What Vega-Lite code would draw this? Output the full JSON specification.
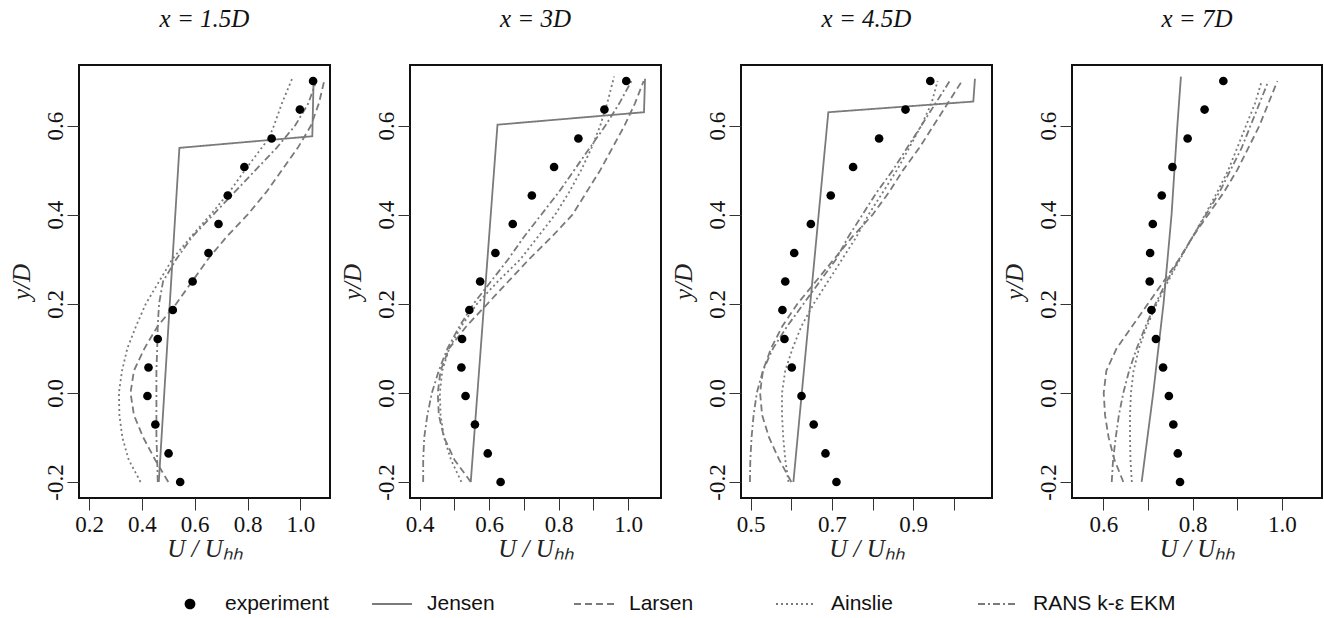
{
  "$schema": "https://vega.github.io/schema/vega-lite/v6.json",
  "padding": {"left": 8, "top": 6, "right": 2, "bottom": 2},
  "background": "white",
  "datasets": {
    "exp": [
      {"p":1,"y":-0.2,"u":0.545},{"p":1,"y":-0.136,"u":0.501},{"p":1,"y":-0.071,"u":0.451},{"p":1,"y":-0.007,"u":0.421},{"p":1,"y":0.057,"u":0.425},{"p":1,"y":0.121,"u":0.46},{"p":1,"y":0.186,"u":0.517},{"p":1,"y":0.25,"u":0.592},{"p":1,"y":0.314,"u":0.652},{"p":1,"y":0.379,"u":0.69},{"p":1,"y":0.443,"u":0.725},{"p":1,"y":0.507,"u":0.788},{"p":1,"y":0.571,"u":0.891},{"p":1,"y":0.636,"u":0.998},{"p":1,"y":0.7,"u":1.048},
      {"p":2,"y":-0.2,"u":0.633},{"p":2,"y":-0.136,"u":0.596},{"p":2,"y":-0.071,"u":0.559},{"p":2,"y":-0.007,"u":0.532},{"p":2,"y":0.057,"u":0.52},{"p":2,"y":0.121,"u":0.522},{"p":2,"y":0.186,"u":0.543},{"p":2,"y":0.25,"u":0.574},{"p":2,"y":0.314,"u":0.618},{"p":2,"y":0.379,"u":0.668},{"p":2,"y":0.443,"u":0.723},{"p":2,"y":0.507,"u":0.787},{"p":2,"y":0.571,"u":0.857},{"p":2,"y":0.636,"u":0.932},{"p":2,"y":0.7,"u":0.995},
      {"p":3,"y":-0.2,"u":0.711},{"p":3,"y":-0.136,"u":0.684},{"p":3,"y":-0.071,"u":0.655},{"p":3,"y":-0.007,"u":0.625},{"p":3,"y":0.057,"u":0.601},{"p":3,"y":0.121,"u":0.583},{"p":3,"y":0.186,"u":0.578},{"p":3,"y":0.25,"u":0.585},{"p":3,"y":0.314,"u":0.607},{"p":3,"y":0.379,"u":0.648},{"p":3,"y":0.443,"u":0.697},{"p":3,"y":0.507,"u":0.752},{"p":3,"y":0.571,"u":0.816},{"p":3,"y":0.636,"u":0.881},{"p":3,"y":0.7,"u":0.942},
      {"p":4,"y":-0.2,"u":0.772},{"p":4,"y":-0.136,"u":0.767},{"p":4,"y":-0.071,"u":0.757},{"p":4,"y":-0.007,"u":0.747},{"p":4,"y":0.057,"u":0.734},{"p":4,"y":0.121,"u":0.718},{"p":4,"y":0.186,"u":0.708},{"p":4,"y":0.25,"u":0.704},{"p":4,"y":0.314,"u":0.705},{"p":4,"y":0.379,"u":0.711},{"p":4,"y":0.443,"u":0.731},{"p":4,"y":0.507,"u":0.755},{"p":4,"y":0.571,"u":0.789},{"p":4,"y":0.636,"u":0.827},{"p":4,"y":0.7,"u":0.869}
    ],
    "mod": [
      {"p":1,"m":"Jensen","y":-0.2,"u":0.464},{"p":1,"m":"Jensen","y":0.55,"u":0.542},{"p":1,"m":"Jensen","y":0.576,"u":1.045},{"p":1,"m":"Jensen","y":0.705,"u":1.05},
      {"p":1,"m":"Larsen","y":-0.2,"u":0.5},{"p":1,"m":"Larsen","y":-0.15,"u":0.45},{"p":1,"m":"Larsen","y":-0.1,"u":0.405},{"p":1,"m":"Larsen","y":-0.05,"u":0.37},{"p":1,"m":"Larsen","y":0.0,"u":0.357},{"p":1,"m":"Larsen","y":0.05,"u":0.37},{"p":1,"m":"Larsen","y":0.1,"u":0.41},{"p":1,"m":"Larsen","y":0.15,"u":0.46},{"p":1,"m":"Larsen","y":0.2,"u":0.53},{"p":1,"m":"Larsen","y":0.25,"u":0.59},{"p":1,"m":"Larsen","y":0.3,"u":0.65},{"p":1,"m":"Larsen","y":0.35,"u":0.72},{"p":1,"m":"Larsen","y":0.4,"u":0.8},{"p":1,"m":"Larsen","y":0.45,"u":0.87},{"p":1,"m":"Larsen","y":0.5,"u":0.93},{"p":1,"m":"Larsen","y":0.55,"u":0.99},{"p":1,"m":"Larsen","y":0.6,"u":1.04},{"p":1,"m":"Larsen","y":0.65,"u":1.07},{"p":1,"m":"Larsen","y":0.7,"u":1.09},
      {"p":1,"m":"Ainslie","y":-0.2,"u":0.395},{"p":1,"m":"Ainslie","y":-0.15,"u":0.35},{"p":1,"m":"Ainslie","y":-0.1,"u":0.326},{"p":1,"m":"Ainslie","y":-0.05,"u":0.315},{"p":1,"m":"Ainslie","y":0.0,"u":0.313},{"p":1,"m":"Ainslie","y":0.05,"u":0.325},{"p":1,"m":"Ainslie","y":0.1,"u":0.345},{"p":1,"m":"Ainslie","y":0.15,"u":0.378},{"p":1,"m":"Ainslie","y":0.2,"u":0.415},{"p":1,"m":"Ainslie","y":0.25,"u":0.465},{"p":1,"m":"Ainslie","y":0.3,"u":0.515},{"p":1,"m":"Ainslie","y":0.35,"u":0.585},{"p":1,"m":"Ainslie","y":0.4,"u":0.66},{"p":1,"m":"Ainslie","y":0.45,"u":0.73},{"p":1,"m":"Ainslie","y":0.5,"u":0.79},{"p":1,"m":"Ainslie","y":0.571,"u":0.88},{"p":1,"m":"Ainslie","y":0.6,"u":0.9},{"p":1,"m":"Ainslie","y":0.65,"u":0.93},{"p":1,"m":"Ainslie","y":0.71,"u":0.972},
      {"p":1,"m":"RANS k-ε EKM","y":-0.2,"u":0.46},{"p":1,"m":"RANS k-ε EKM","y":-0.15,"u":0.458},{"p":1,"m":"RANS k-ε EKM","y":-0.1,"u":0.455},{"p":1,"m":"RANS k-ε EKM","y":-0.05,"u":0.455},{"p":1,"m":"RANS k-ε EKM","y":0.0,"u":0.455},{"p":1,"m":"RANS k-ε EKM","y":0.05,"u":0.455},{"p":1,"m":"RANS k-ε EKM","y":0.1,"u":0.458},{"p":1,"m":"RANS k-ε EKM","y":0.15,"u":0.46},{"p":1,"m":"RANS k-ε EKM","y":0.2,"u":0.465},{"p":1,"m":"RANS k-ε EKM","y":0.25,"u":0.48},{"p":1,"m":"RANS k-ε EKM","y":0.3,"u":0.53},{"p":1,"m":"RANS k-ε EKM","y":0.35,"u":0.59},{"p":1,"m":"RANS k-ε EKM","y":0.4,"u":0.67},{"p":1,"m":"RANS k-ε EKM","y":0.45,"u":0.75},{"p":1,"m":"RANS k-ε EKM","y":0.5,"u":0.83},{"p":1,"m":"RANS k-ε EKM","y":0.55,"u":0.91},{"p":1,"m":"RANS k-ε EKM","y":0.6,"u":0.98},{"p":1,"m":"RANS k-ε EKM","y":0.65,"u":1.03},{"p":1,"m":"RANS k-ε EKM","y":0.7,"u":1.06},

      {"p":2,"m":"Jensen","y":-0.2,"u":0.547},{"p":2,"m":"Jensen","y":0.602,"u":0.624},{"p":2,"m":"Jensen","y":0.63,"u":1.046},{"p":2,"m":"Jensen","y":0.705,"u":1.049},
      {"p":2,"m":"Larsen","y":-0.2,"u":0.547},{"p":2,"m":"Larsen","y":-0.15,"u":0.5},{"p":2,"m":"Larsen","y":-0.1,"u":0.47},{"p":2,"m":"Larsen","y":-0.05,"u":0.455},{"p":2,"m":"Larsen","y":0.0,"u":0.452},{"p":2,"m":"Larsen","y":0.05,"u":0.46},{"p":2,"m":"Larsen","y":0.1,"u":0.485},{"p":2,"m":"Larsen","y":0.15,"u":0.535},{"p":2,"m":"Larsen","y":0.2,"u":0.595},{"p":2,"m":"Larsen","y":0.25,"u":0.655},{"p":2,"m":"Larsen","y":0.3,"u":0.715},{"p":2,"m":"Larsen","y":0.35,"u":0.78},{"p":2,"m":"Larsen","y":0.4,"u":0.84},{"p":2,"m":"Larsen","y":0.45,"u":0.88},{"p":2,"m":"Larsen","y":0.5,"u":0.92},{"p":2,"m":"Larsen","y":0.55,"u":0.955},{"p":2,"m":"Larsen","y":0.6,"u":0.99},{"p":2,"m":"Larsen","y":0.65,"u":1.02},{"p":2,"m":"Larsen","y":0.7,"u":1.045},
      {"p":2,"m":"Ainslie","y":-0.2,"u":0.52},{"p":2,"m":"Ainslie","y":-0.15,"u":0.49},{"p":2,"m":"Ainslie","y":-0.1,"u":0.47},{"p":2,"m":"Ainslie","y":-0.05,"u":0.46},{"p":2,"m":"Ainslie","y":0.0,"u":0.458},{"p":2,"m":"Ainslie","y":0.05,"u":0.465},{"p":2,"m":"Ainslie","y":0.1,"u":0.485},{"p":2,"m":"Ainslie","y":0.15,"u":0.52},{"p":2,"m":"Ainslie","y":0.2,"u":0.565},{"p":2,"m":"Ainslie","y":0.25,"u":0.625},{"p":2,"m":"Ainslie","y":0.3,"u":0.69},{"p":2,"m":"Ainslie","y":0.35,"u":0.74},{"p":2,"m":"Ainslie","y":0.4,"u":0.79},{"p":2,"m":"Ainslie","y":0.45,"u":0.83},{"p":2,"m":"Ainslie","y":0.5,"u":0.865},{"p":2,"m":"Ainslie","y":0.55,"u":0.895},{"p":2,"m":"Ainslie","y":0.6,"u":0.92},{"p":2,"m":"Ainslie","y":0.65,"u":0.94},{"p":2,"m":"Ainslie","y":0.71,"u":0.96},
      {"p":2,"m":"RANS k-ε EKM","y":-0.2,"u":0.41},{"p":2,"m":"RANS k-ε EKM","y":-0.15,"u":0.41},{"p":2,"m":"RANS k-ε EKM","y":-0.1,"u":0.413},{"p":2,"m":"RANS k-ε EKM","y":-0.05,"u":0.422},{"p":2,"m":"RANS k-ε EKM","y":0.0,"u":0.435},{"p":2,"m":"RANS k-ε EKM","y":0.05,"u":0.455},{"p":2,"m":"RANS k-ε EKM","y":0.1,"u":0.48},{"p":2,"m":"RANS k-ε EKM","y":0.15,"u":0.515},{"p":2,"m":"RANS k-ε EKM","y":0.2,"u":0.555},{"p":2,"m":"RANS k-ε EKM","y":0.25,"u":0.605},{"p":2,"m":"RANS k-ε EKM","y":0.3,"u":0.655},{"p":2,"m":"RANS k-ε EKM","y":0.35,"u":0.7},{"p":2,"m":"RANS k-ε EKM","y":0.4,"u":0.75},{"p":2,"m":"RANS k-ε EKM","y":0.45,"u":0.8},{"p":2,"m":"RANS k-ε EKM","y":0.5,"u":0.845},{"p":2,"m":"RANS k-ε EKM","y":0.55,"u":0.89},{"p":2,"m":"RANS k-ε EKM","y":0.6,"u":0.935},{"p":2,"m":"RANS k-ε EKM","y":0.65,"u":0.975},{"p":2,"m":"RANS k-ε EKM","y":0.7,"u":1.01},

      {"p":3,"m":"Jensen","y":-0.2,"u":0.605},{"p":3,"m":"Jensen","y":0.63,"u":0.691},{"p":3,"m":"Jensen","y":0.654,"u":1.048},{"p":3,"m":"Jensen","y":0.705,"u":1.052},
      {"p":3,"m":"Larsen","y":-0.2,"u":0.6},{"p":3,"m":"Larsen","y":-0.15,"u":0.57},{"p":3,"m":"Larsen","y":-0.1,"u":0.545},{"p":3,"m":"Larsen","y":-0.05,"u":0.528},{"p":3,"m":"Larsen","y":0.0,"u":0.523},{"p":3,"m":"Larsen","y":0.05,"u":0.53},{"p":3,"m":"Larsen","y":0.1,"u":0.55},{"p":3,"m":"Larsen","y":0.15,"u":0.578},{"p":3,"m":"Larsen","y":0.2,"u":0.615},{"p":3,"m":"Larsen","y":0.25,"u":0.66},{"p":3,"m":"Larsen","y":0.3,"u":0.705},{"p":3,"m":"Larsen","y":0.35,"u":0.75},{"p":3,"m":"Larsen","y":0.4,"u":0.8},{"p":3,"m":"Larsen","y":0.45,"u":0.84},{"p":3,"m":"Larsen","y":0.5,"u":0.875},{"p":3,"m":"Larsen","y":0.55,"u":0.915},{"p":3,"m":"Larsen","y":0.6,"u":0.95},{"p":3,"m":"Larsen","y":0.65,"u":0.985},{"p":3,"m":"Larsen","y":0.7,"u":1.02},
      {"p":3,"m":"Ainslie","y":-0.2,"u":0.593},{"p":3,"m":"Ainslie","y":-0.15,"u":0.585},{"p":3,"m":"Ainslie","y":-0.1,"u":0.58},{"p":3,"m":"Ainslie","y":-0.05,"u":0.577},{"p":3,"m":"Ainslie","y":0.0,"u":0.577},{"p":3,"m":"Ainslie","y":0.05,"u":0.585},{"p":3,"m":"Ainslie","y":0.1,"u":0.603},{"p":3,"m":"Ainslie","y":0.15,"u":0.625},{"p":3,"m":"Ainslie","y":0.2,"u":0.655},{"p":3,"m":"Ainslie","y":0.25,"u":0.69},{"p":3,"m":"Ainslie","y":0.3,"u":0.725},{"p":3,"m":"Ainslie","y":0.35,"u":0.76},{"p":3,"m":"Ainslie","y":0.4,"u":0.79},{"p":3,"m":"Ainslie","y":0.45,"u":0.825},{"p":3,"m":"Ainslie","y":0.5,"u":0.86},{"p":3,"m":"Ainslie","y":0.55,"u":0.89},{"p":3,"m":"Ainslie","y":0.6,"u":0.92},{"p":3,"m":"Ainslie","y":0.65,"u":0.945},{"p":3,"m":"Ainslie","y":0.7,"u":0.96},
      {"p":3,"m":"RANS k-ε EKM","y":-0.2,"u":0.498},{"p":3,"m":"RANS k-ε EKM","y":-0.15,"u":0.499},{"p":3,"m":"RANS k-ε EKM","y":-0.1,"u":0.502},{"p":3,"m":"RANS k-ε EKM","y":-0.05,"u":0.507},{"p":3,"m":"RANS k-ε EKM","y":0.0,"u":0.515},{"p":3,"m":"RANS k-ε EKM","y":0.05,"u":0.53},{"p":3,"m":"RANS k-ε EKM","y":0.1,"u":0.555},{"p":3,"m":"RANS k-ε EKM","y":0.15,"u":0.59},{"p":3,"m":"RANS k-ε EKM","y":0.2,"u":0.63},{"p":3,"m":"RANS k-ε EKM","y":0.25,"u":0.67},{"p":3,"m":"RANS k-ε EKM","y":0.3,"u":0.71},{"p":3,"m":"RANS k-ε EKM","y":0.35,"u":0.74},{"p":3,"m":"RANS k-ε EKM","y":0.4,"u":0.775},{"p":3,"m":"RANS k-ε EKM","y":0.45,"u":0.81},{"p":3,"m":"RANS k-ε EKM","y":0.5,"u":0.85},{"p":3,"m":"RANS k-ε EKM","y":0.55,"u":0.885},{"p":3,"m":"RANS k-ε EKM","y":0.6,"u":0.92},{"p":3,"m":"RANS k-ε EKM","y":0.65,"u":0.955},{"p":3,"m":"RANS k-ε EKM","y":0.7,"u":0.99},

      {"p":4,"m":"Jensen","y":-0.2,"u":0.686},{"p":4,"m":"Jensen","y":0.0,"u":0.712},{"p":4,"m":"Jensen","y":0.2,"u":0.735},{"p":4,"m":"Jensen","y":0.4,"u":0.753},{"p":4,"m":"Jensen","y":0.6,"u":0.766},{"p":4,"m":"Jensen","y":0.71,"u":0.774},
      {"p":4,"m":"Larsen","y":-0.2,"u":0.645},{"p":4,"m":"Larsen","y":-0.15,"u":0.625},{"p":4,"m":"Larsen","y":-0.1,"u":0.612},{"p":4,"m":"Larsen","y":-0.05,"u":0.604},{"p":4,"m":"Larsen","y":0.0,"u":0.601},{"p":4,"m":"Larsen","y":0.05,"u":0.607},{"p":4,"m":"Larsen","y":0.1,"u":0.63},{"p":4,"m":"Larsen","y":0.15,"u":0.665},{"p":4,"m":"Larsen","y":0.2,"u":0.7},{"p":4,"m":"Larsen","y":0.25,"u":0.735},{"p":4,"m":"Larsen","y":0.3,"u":0.77},{"p":4,"m":"Larsen","y":0.35,"u":0.8},{"p":4,"m":"Larsen","y":0.4,"u":0.835},{"p":4,"m":"Larsen","y":0.45,"u":0.87},{"p":4,"m":"Larsen","y":0.5,"u":0.9},{"p":4,"m":"Larsen","y":0.55,"u":0.925},{"p":4,"m":"Larsen","y":0.6,"u":0.95},{"p":4,"m":"Larsen","y":0.65,"u":0.97},{"p":4,"m":"Larsen","y":0.7,"u":0.99},
      {"p":4,"m":"Ainslie","y":-0.2,"u":0.664},{"p":4,"m":"Ainslie","y":-0.15,"u":0.661},{"p":4,"m":"Ainslie","y":-0.1,"u":0.66},{"p":4,"m":"Ainslie","y":-0.05,"u":0.66},{"p":4,"m":"Ainslie","y":0.0,"u":0.662},{"p":4,"m":"Ainslie","y":0.05,"u":0.668},{"p":4,"m":"Ainslie","y":0.1,"u":0.68},{"p":4,"m":"Ainslie","y":0.15,"u":0.698},{"p":4,"m":"Ainslie","y":0.2,"u":0.72},{"p":4,"m":"Ainslie","y":0.25,"u":0.745},{"p":4,"m":"Ainslie","y":0.3,"u":0.772},{"p":4,"m":"Ainslie","y":0.35,"u":0.8},{"p":4,"m":"Ainslie","y":0.4,"u":0.828},{"p":4,"m":"Ainslie","y":0.45,"u":0.855},{"p":4,"m":"Ainslie","y":0.5,"u":0.88},{"p":4,"m":"Ainslie","y":0.55,"u":0.9},{"p":4,"m":"Ainslie","y":0.6,"u":0.92},{"p":4,"m":"Ainslie","y":0.65,"u":0.94},{"p":4,"m":"Ainslie","y":0.7,"u":0.955},
      {"p":4,"m":"RANS k-ε EKM","y":-0.2,"u":0.619},{"p":4,"m":"RANS k-ε EKM","y":-0.15,"u":0.622},{"p":4,"m":"RANS k-ε EKM","y":-0.1,"u":0.628},{"p":4,"m":"RANS k-ε EKM","y":-0.05,"u":0.635},{"p":4,"m":"RANS k-ε EKM","y":0.0,"u":0.645},{"p":4,"m":"RANS k-ε EKM","y":0.05,"u":0.658},{"p":4,"m":"RANS k-ε EKM","y":0.1,"u":0.675},{"p":4,"m":"RANS k-ε EKM","y":0.15,"u":0.695},{"p":4,"m":"RANS k-ε EKM","y":0.2,"u":0.717},{"p":4,"m":"RANS k-ε EKM","y":0.25,"u":0.742},{"p":4,"m":"RANS k-ε EKM","y":0.3,"u":0.77},{"p":4,"m":"RANS k-ε EKM","y":0.35,"u":0.8},{"p":4,"m":"RANS k-ε EKM","y":0.4,"u":0.83},{"p":4,"m":"RANS k-ε EKM","y":0.45,"u":0.86},{"p":4,"m":"RANS k-ε EKM","y":0.5,"u":0.885},{"p":4,"m":"RANS k-ε EKM","y":0.55,"u":0.91},{"p":4,"m":"RANS k-ε EKM","y":0.6,"u":0.93},{"p":4,"m":"RANS k-ε EKM","y":0.65,"u":0.95},{"p":4,"m":"RANS k-ε EKM","y":0.7,"u":0.97}
    ]
  },
  "spacing": 8,
  "resolve": {"scale": {"x": "independent", "y": "independent", "strokeDash": "shared"}, "legend": {"strokeDash": "shared"}},
  "hconcat": [
    {
      "width": 251, "height": 433,
      "title": {"text": "x = 1.5D"},
      "layer": [
        {"data": {"name": "mod"}, "transform": [{"filter": "datum.p == 1"}],
         "mark": {"type": "line", "color": "#7a7a7a", "strokeWidth": 1.8},
         "encoding": {
           "x": {"field": "u", "type": "quantitative", "scale": {"domain": [0.162, 1.112], "nice": false, "zero": false}, "axis": {"values": [0.2, 0.4, 0.6, 0.8, 1.0], "labelExpr": "format(datum.value, '.1f')"}, "title": "U / Uₕₕ"},
           "y": {"field": "y", "type": "quantitative", "scale": {"domain": [-0.236, 0.736], "nice": false, "zero": false}, "title": "y/D", "axis": {"values": [-0.2, 0, 0.2, 0.4, 0.6], "labelAngle": 270, "labelExpr": "replace(format(datum.value, '.1f'), '−', '-')"}},
           "order": {"field": "y", "type": "quantitative"},
           "strokeDash": {"field": "m", "type": "nominal", "scale": {"domain": ["experiment", "Jensen", "Larsen", "Ainslie", "RANS k-ε EKM"], "range": [[1, 0], [1, 0], [7, 4], [2, 3], [7, 3, 2, 3]]}, "legend": {"title": null, "orient": "none", "legendX": 90, "legendY": 518, "direction": "horizontal", "columns": 5, "gridAlign": "all", "symbolType": "stroke", "symbolSize": 1600, "symbolStrokeWidth": 1.8, "symbolStrokeColor": "#7a7a7a", "labelFont": "Liberation Sans", "labelFontSize": 21, "labelColor": "#111", "labelOffset": 14, "columnPadding": 0,
             "encode": {"symbols": {"update": {"shape": {"signal": "datum.value === 'experiment' ? 'circle' : 'stroke'"}, "size": {"signal": "datum.value === 'experiment' ? 80 : 1600"}, "fill": {"signal": "datum.value === 'experiment' ? 'black' : 'transparent'"}, "stroke": {"signal": "datum.value === 'experiment' ? 'black' : '#7a7a7a'"}}}}}}
         }},
        {"data": {"name": "exp"}, "transform": [{"filter": "datum.p == 1"}],
         "mark": {"type": "circle", "color": "black", "size": 75, "opacity": 1},
         "encoding": {"x": {"field": "u", "type": "quantitative"}, "y": {"field": "y", "type": "quantitative"}}}
      ]
    },
    {
      "width": 251, "height": 433,
      "title": {"text": "x = 3D"},
      "layer": [
        {"data": {"name": "mod"}, "transform": [{"filter": "datum.p == 2"}],
         "mark": {"type": "line", "color": "#7a7a7a", "strokeWidth": 1.8},
         "encoding": {
           "x": {"field": "u", "type": "quantitative", "scale": {"domain": [0.372, 1.095], "nice": false, "zero": false}, "axis": {"values": [0.4, 0.5, 0.6, 0.7, 0.8, 0.9, 1.0], "labelExpr": "round(datum.value*10) % 2 == 0 ? format(datum.value, '.1f') : ''"}, "title": "U / Uₕₕ"},
           "y": {"field": "y", "type": "quantitative", "scale": {"domain": [-0.236, 0.736], "nice": false, "zero": false}, "title": "y/D", "axis": {"values": [-0.2, 0, 0.2, 0.4, 0.6], "labelAngle": 270, "labelExpr": "replace(format(datum.value, '.1f'), '−', '-')"}},
           "order": {"field": "y", "type": "quantitative"},
           "strokeDash": {"field": "m", "type": "nominal", "scale": {"domain": ["experiment", "Jensen", "Larsen", "Ainslie", "RANS k-ε EKM"], "range": [[1, 0], [1, 0], [7, 4], [2, 3], [7, 3, 2, 3]]}}
         }},
        {"data": {"name": "exp"}, "transform": [{"filter": "datum.p == 2"}],
         "mark": {"type": "circle", "color": "black", "size": 75, "opacity": 1},
         "encoding": {"x": {"field": "u", "type": "quantitative"}, "y": {"field": "y", "type": "quantitative"}}}
      ]
    },
    {
      "width": 251, "height": 433,
      "title": {"text": "x = 4.5D"},
      "layer": [
        {"data": {"name": "mod"}, "transform": [{"filter": "datum.p == 3"}],
         "mark": {"type": "line", "color": "#7a7a7a", "strokeWidth": 1.8},
         "encoding": {
           "x": {"field": "u", "type": "quantitative", "scale": {"domain": [0.476, 1.094], "nice": false, "zero": false}, "axis": {"values": [0.5, 0.6, 0.7, 0.8, 0.9, 1.0], "labelExpr": "round(datum.value*10) % 2 == 1 ? format(datum.value, '.1f') : ''"}, "title": "U / Uₕₕ"},
           "y": {"field": "y", "type": "quantitative", "scale": {"domain": [-0.236, 0.736], "nice": false, "zero": false}, "title": "y/D", "axis": {"values": [-0.2, 0, 0.2, 0.4, 0.6], "labelAngle": 270, "labelExpr": "replace(format(datum.value, '.1f'), '−', '-')"}},
           "order": {"field": "y", "type": "quantitative"},
           "strokeDash": {"field": "m", "type": "nominal", "scale": {"domain": ["experiment", "Jensen", "Larsen", "Ainslie", "RANS k-ε EKM"], "range": [[1, 0], [1, 0], [7, 4], [2, 3], [7, 3, 2, 3]]}}
         }},
        {"data": {"name": "exp"}, "transform": [{"filter": "datum.p == 3"}],
         "mark": {"type": "circle", "color": "black", "size": 75, "opacity": 1},
         "encoding": {"x": {"field": "u", "type": "quantitative"}, "y": {"field": "y", "type": "quantitative"}}}
      ]
    },
    {
      "width": 250, "height": 433,
      "title": {"text": "x = 7D"},
      "layer": [
        {"data": {"name": "mod"}, "transform": [{"filter": "datum.p == 4"}],
         "mark": {"type": "line", "color": "#7a7a7a", "strokeWidth": 1.8},
         "encoding": {
           "x": {"field": "u", "type": "quantitative", "scale": {"domain": [0.53, 1.09], "nice": false, "zero": false}, "axis": {"values": [0.6, 0.7, 0.8, 0.9, 1.0], "labelExpr": "round(datum.value*10) % 2 == 0 ? format(datum.value, '.1f') : ''"}, "title": "U / Uₕₕ"},
           "y": {"field": "y", "type": "quantitative", "scale": {"domain": [-0.236, 0.736], "nice": false, "zero": false}, "title": "y/D", "axis": {"values": [-0.2, 0, 0.2, 0.4, 0.6], "labelAngle": 270, "labelExpr": "replace(format(datum.value, '.1f'), '−', '-')"}},
           "order": {"field": "y", "type": "quantitative"},
           "strokeDash": {"field": "m", "type": "nominal", "scale": {"domain": ["experiment", "Jensen", "Larsen", "Ainslie", "RANS k-ε EKM"], "range": [[1, 0], [1, 0], [7, 4], [2, 3], [7, 3, 2, 3]]}}
         }},
        {"data": {"name": "exp"}, "transform": [{"filter": "datum.p == 4"}],
         "mark": {"type": "circle", "color": "black", "size": 75, "opacity": 1},
         "encoding": {"x": {"field": "u", "type": "quantitative"}, "y": {"field": "y", "type": "quantitative"}}}
      ]
    }
  ],
  "config": {
    "view": {"stroke": "#111", "strokeWidth": 2},
    "title": {"font": "Liberation Serif", "fontStyle": "italic", "fontWeight": "normal", "fontSize": 25, "color": "#111", "offset": 33},
    "axis": {"domain": false, "grid": false, "tickColor": "#333", "tickWidth": 1, "tickSize": 12, "labelFont": "Liberation Serif", "labelFontSize": 23, "labelColor": "#111", "labelPadding": 3, "titleFont": "Liberation Serif", "titleFontStyle": "italic", "titleFontWeight": "normal", "titleFontSize": 25, "titleColor": "#222"},
    "axisY": {"labelPadding": 0, "titlePadding": 10},
    "axisX": {"titlePadding": 0}
  }
}
